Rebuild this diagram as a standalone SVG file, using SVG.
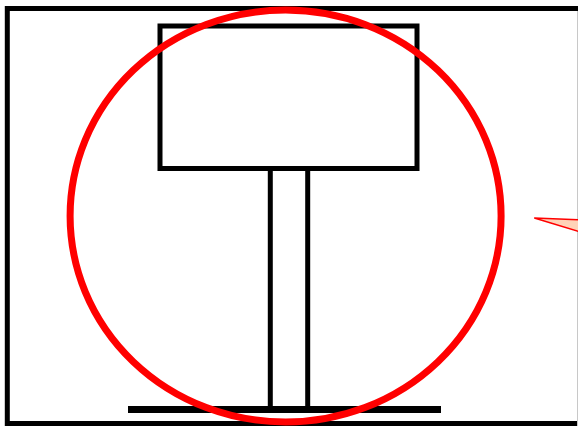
<svg xmlns="http://www.w3.org/2000/svg" width="578" height="426" viewBox="0 0 578 426">
<style>
.k{fill:none;stroke:#000;stroke-width:5}
</style>
<rect width="578" height="426" fill="#fff"/>
<g id="frame"><rect class="k" x="7.3" y="8.5" width="620" height="415"/></g>
<line x1="577.5" y1="11" x2="577.5" y2="426" stroke="#c8c8c8" stroke-width="1"/>
<g id="sign"><rect class="k" x="160" y="26" width="257" height="142.5"/></g>
<g id="post">
<line class="k" x1="270.3" y1="168" x2="270.3" y2="407"/>
<line class="k" x1="307.7" y1="168" x2="307.7" y2="407"/>
</g>
<g id="base"><line x1="128" y1="409.5" x2="441" y2="409.5" stroke="#000" stroke-width="7"/></g>
<g id="circle"><ellipse cx="285.6" cy="216" rx="215.5" ry="206" fill="none" stroke="#f00" stroke-width="7"/></g>
<g id="pointer"><polygon points="534.3,218 640,222.5 640,250" fill="#ffd3b8" stroke="#f00" stroke-width="1.5"/></g>
</svg>
